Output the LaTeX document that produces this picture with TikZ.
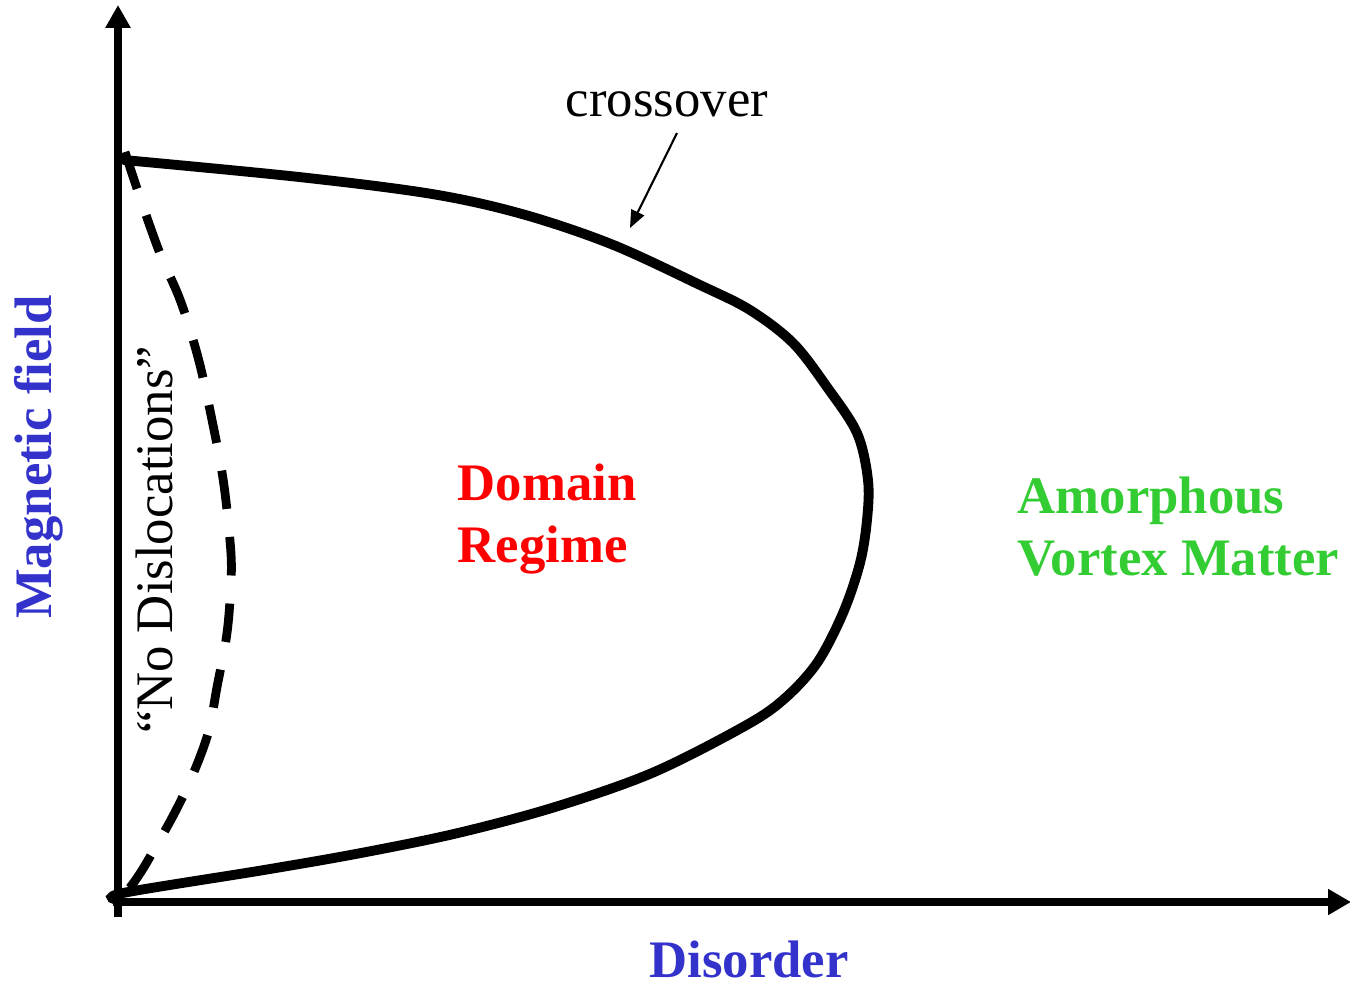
\documentclass[tikz,border=0pt]{standalone}
\usepackage{fontspec}
\setmainfont{Liberation Serif}
\usepackage{tikz}
\usetikzlibrary{arrows.meta,positioning}
\definecolor{axisBlue}{RGB}{51, 51, 204}
\definecolor{domainRed}{RGB}{255, 0, 0}
\definecolor{amorphGreen}{RGB}{51, 204, 51}

\begin{document}
\begin{tikzpicture}
            \useasboundingbox (-1.18,-0.84) rectangle (12.32,9.02);

            % Axes
            \coordinate (origin) at (0,-0.15);
            \coordinate (ytip) at (0,8.97);
            \coordinate (xstart) at (-0.05,0);
            \coordinate (xtip) at (12.33,0);
            \draw[line width=2.3pt, -{Triangle[width=6.8pt,length=6.5pt]}] (origin) -- (ytip);
            \draw[line width=2.1pt, -{Triangle[width=7pt,length=6.5pt]}] (xstart) -- (xtip);

            % Axis labels
            \node[anchor=base, inner sep=0, rotate=90] (field) at (-0.66,4.45) {
                {\fontsize{15}{18}\bfseries\color{axisBlue}Magnetic field}
            };
            \node[anchor=base, inner sep=0] (disorder) at (6.31,-0.75) {
                {\fontsize{15}{18}\bfseries\color{axisBlue}Disorder}
            };

            % Crossover line
            \draw[line width=2.8pt, line cap=round] plot[smooth, tension=0.55] coordinates {
                (0.06,7.42) (1.81,7.25) (3.14,7.08) (4.04,6.88) (4.93,6.58)
                (5.82,6.17) (6.32,5.92) (6.75,5.59) (7.09,5.15) (7.39,4.69)
                (7.50,4.22) (7.49,3.82) (7.42,3.39) (7.25,2.89) (6.99,2.39)
                (6.65,2.02) (6.25,1.75) (5.34,1.29) (4.37,0.95) (3.40,0.69)
                (2.43,0.49) (1.46,0.32) (0.05,0.09) (0,0.02)};

            % No dislocations line
            \draw[line width=2.5pt, dash pattern=on 11pt off 8pt] plot[smooth, tension=0.8] coordinates {
                (0.07,7.50) (0.38,6.59) (0.69,5.82) (0.94,4.82)
                (1.10,3.82) (1.12,3.02) (1.00,2.20) (0.80,1.40)
                (0.29,0.40) (0,0.02)};

            % Labels
            \node[anchor=base, inner sep=0] (crossover) at (5.49,7.86) {
                {\fontsize{15}{18}\selectfont crossover}
            };
            \coordinate (crossstart) at (5.59,7.69);
            \coordinate (crosspoint) at (5.12,6.74);
            \draw[line width=0.6pt, -{Triangle[width=4pt,length=5pt]}] (crossstart) -- (crosspoint);

            \node[anchor=base, inner sep=0, rotate=90] (nodisl) at (0.55,3.62) {
                {\fontsize{15}{18}\selectfont “No Dislocations”}
            };

            \node[anchor=base west, inner sep=0, align=left, text=domainRed,
                  font=\fontsize{15}{17.6}\bfseries] (domain) at (3.39,3.40) {Domain\\Regime};
            \node[anchor=base west, inner sep=0, align=left, text=amorphGreen,
                  font=\fontsize{15}{17.6}\bfseries] (amorph) at (8.99,3.27) {Amorphous\\Vortex Matter};
        \end{tikzpicture}
\end{document}
